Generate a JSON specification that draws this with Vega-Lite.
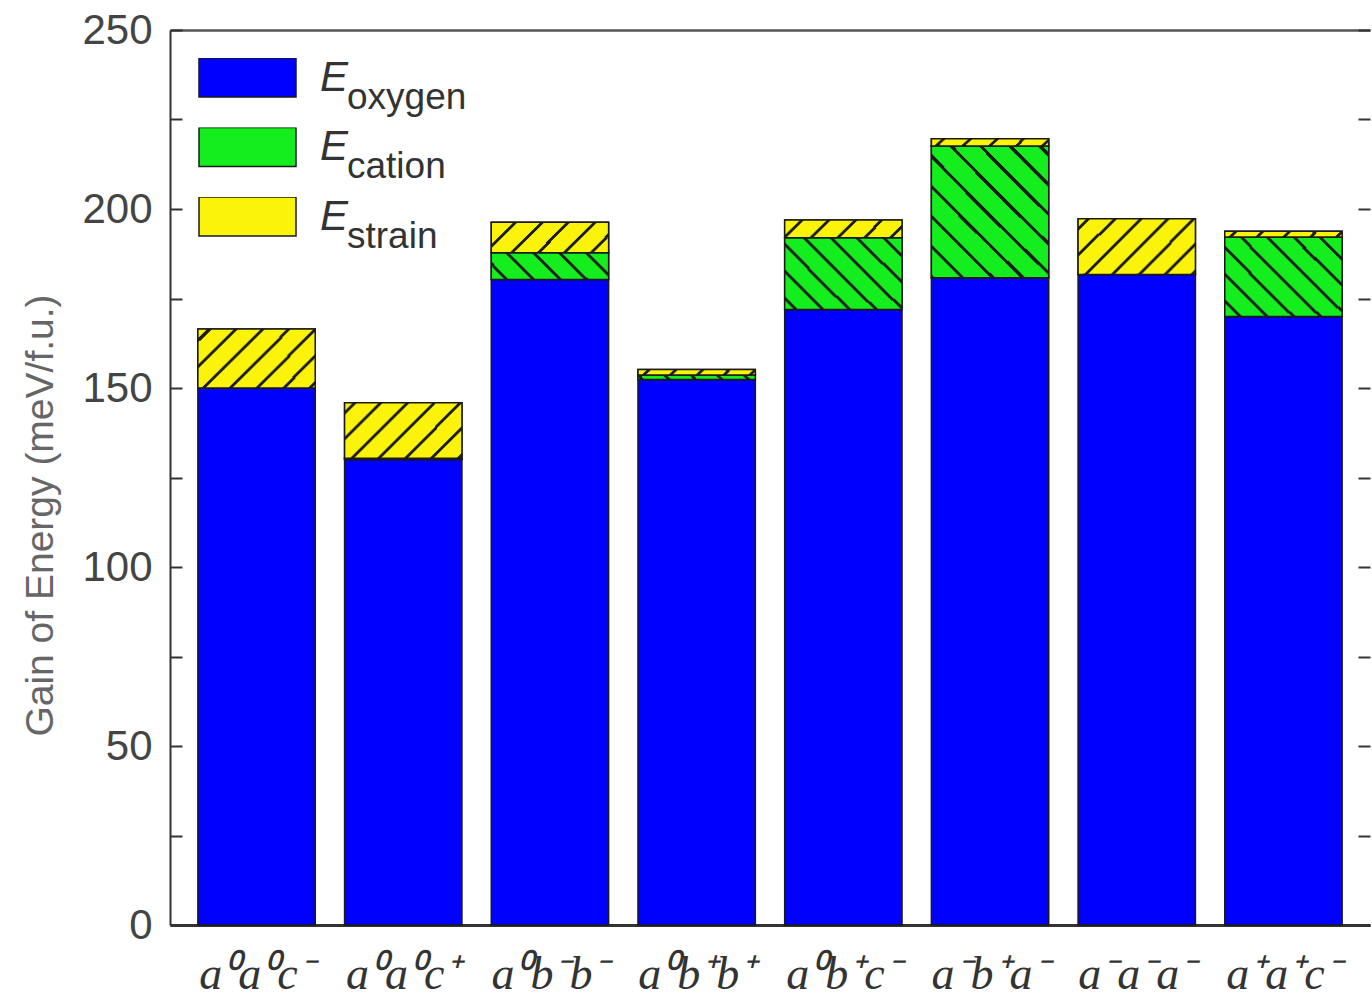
{
  "$schema": "https://vega.github.io/schema/vega-lite/v6.json",
  "autosize": "none",
  "width": 1200,
  "height": 895,
  "padding": {"left": 170, "top": 30, "right": 2, "bottom": 73},
  "background": "white",
  "config": {"view": {"stroke": null}, "axis": {"grid": false}},
  "data": {
    "values": [
      {"phase": "a⁰a⁰c⁻", "comp": "oxygen", "value": 150.0},
      {"phase": "a⁰a⁰c⁻", "comp": "strain", "value": 16.5},
      {"phase": "a⁰a⁰c⁺", "comp": "oxygen", "value": 130.0},
      {"phase": "a⁰a⁰c⁺", "comp": "cation", "value": 0.4},
      {"phase": "a⁰a⁰c⁺", "comp": "strain", "value": 15.5},
      {"phase": "a⁰b⁻b⁻", "comp": "oxygen", "value": 180.3},
      {"phase": "a⁰b⁻b⁻", "comp": "cation", "value": 7.5},
      {"phase": "a⁰b⁻b⁻", "comp": "strain", "value": 8.5},
      {"phase": "a⁰b⁺b⁺", "comp": "oxygen", "value": 152.4},
      {"phase": "a⁰b⁺b⁺", "comp": "cation", "value": 1.2},
      {"phase": "a⁰b⁺b⁺", "comp": "strain", "value": 1.6},
      {"phase": "a⁰b⁺c⁻", "comp": "oxygen", "value": 171.9},
      {"phase": "a⁰b⁺c⁻", "comp": "cation", "value": 20.1},
      {"phase": "a⁰b⁺c⁻", "comp": "strain", "value": 4.9},
      {"phase": "a⁻b⁺a⁻", "comp": "oxygen", "value": 180.8},
      {"phase": "a⁻b⁺a⁻", "comp": "cation", "value": 36.8},
      {"phase": "a⁻b⁺a⁻", "comp": "strain", "value": 2.0},
      {"phase": "a⁻a⁻a⁻", "comp": "oxygen", "value": 181.7},
      {"phase": "a⁻a⁻a⁻", "comp": "strain", "value": 15.6},
      {"phase": "a⁺a⁺c⁻", "comp": "oxygen", "value": 170.0},
      {"phase": "a⁺a⁺c⁻", "comp": "cation", "value": 22.2},
      {"phase": "a⁺a⁺c⁻", "comp": "strain", "value": 1.6}
    ]
  },
  "transform": [
    {"calculate": "indexof(['oxygen','cation','strain'], datum.comp)", "as": "rank"},
    {"stack": "value", "groupby": ["phase"], "sort": [{"field": "rank", "order": "ascending"}], "as": ["y0", "y1"]}
  ],
  "resolve": {"axis": {"x": "independent", "y": "independent"}},
  "layer": [
    {
      "mark": {"type": "bar", "strokeWidth": 1.5},
      "encoding": {
        "x": {
          "field": "phase", "type": "nominal",
          "sort": ["a⁰a⁰c⁻", "a⁰a⁰c⁺", "a⁰b⁻b⁻", "a⁰b⁺b⁺", "a⁰b⁺c⁻", "a⁻b⁺a⁻", "a⁻a⁻a⁻", "a⁺a⁺c⁻"],
          "scale": {"paddingInner": 0.2, "paddingOuter": 0.19},
          "axis": {
            "title": null, "ticks": false, "labelAngle": 0,
            "domainColor": "#333", "domainWidth": 3,
            "labelFont": "Liberation Serif", "labelFontStyle": "italic", "labelFontSize": 46,
            "labelColor": "#333", "labelPadding": 27
          }
        },
        "y": {
          "field": "y0", "type": "quantitative",
          "scale": {"domain": [0, 250], "nice": false},
          "axis": {
            "title": "Gain of Energy (meV/f.u.)",
            "titleFont": "Liberation Sans", "titleFontSize": 39, "titleFontWeight": "normal",
            "titleColor": "#666", "titleBaseline": "alphabetic", "titleX": -118, "titleY": 485,
            "values": [0, 25, 50, 75, 100, 125, 150, 175, 200, 225, 250],
            "labelExpr": "datum.value % 50 === 0 ? datum.label : ''",
            "labelFont": "Liberation Sans", "labelFontSize": 42, "labelColor": "#444",
            "labelPadding": 30,
            "tickSize": -12, "tickWidth": 2, "tickColor": "#333",
            "domainColor": "#333", "domainWidth": 2
          }
        },
        "y2": {"field": "y1"},
        "fill": {
          "field": "comp", "type": "nominal",
          "scale": {"domain": ["oxygen", "cation", "strain"], "range": ["#0000ff", "#14ee1e", "#fbf40a"]},
          "legend": {
            "title": null, "orient": "top-left", "offset": 28, "padding": 0,
            "symbolType": "M-1,-0.402H1V0.402H-1Z", "symbolSize": 9409,
            "clipHeight": 39, "rowPadding": 26.5, "labelOffset": 23,
            "labelExpr": "'E'",
            "labelFont": "Liberation Sans", "labelFontStyle": "italic", "labelFontSize": 42, "labelColor": "#333",
            "encode": {
              "symbols": {
                "update": {
                  "stroke": {"value": "#1a1a1a"},
                  "strokeWidth": {"value": 1.5},
                  "fill": [
                    {"test": "datum.value === 'cation'", "value": {
                      "gradient": "radial", "x1": 21, "y1": -20, "r1": 0, "x2": 21, "y2": -20, "r2": 30,
                      "stops": [
                        {"offset": 0, "color": "#14ee1e"},
                        {"offset": 0.94, "color": "#14ee1e"}, {"offset": 0.94, "color": "#1a1a1a"}, {"offset": 0.9408, "color": "#1a1a1a"}, {"offset": 0.9408, "color": "#14ee1e"},
                        {"offset": 0.945333, "color": "#14ee1e"}, {"offset": 0.945333, "color": "#1a1a1a"}, {"offset": 0.946133, "color": "#1a1a1a"}, {"offset": 0.946133, "color": "#14ee1e"},
                        {"offset": 0.950667, "color": "#14ee1e"}, {"offset": 0.950667, "color": "#1a1a1a"}, {"offset": 0.951467, "color": "#1a1a1a"}, {"offset": 0.951467, "color": "#14ee1e"},
                        {"offset": 0.956, "color": "#14ee1e"}, {"offset": 0.956, "color": "#1a1a1a"}, {"offset": 0.9568, "color": "#1a1a1a"}, {"offset": 0.9568, "color": "#14ee1e"},
                        {"offset": 0.961333, "color": "#14ee1e"}, {"offset": 0.961333, "color": "#1a1a1a"}, {"offset": 0.962133, "color": "#1a1a1a"}, {"offset": 0.962133, "color": "#14ee1e"},
                        {"offset": 0.966667, "color": "#14ee1e"}, {"offset": 0.966667, "color": "#1a1a1a"}, {"offset": 0.967467, "color": "#1a1a1a"}, {"offset": 0.967467, "color": "#14ee1e"},
                        {"offset": 0.972, "color": "#14ee1e"}, {"offset": 0.972, "color": "#1a1a1a"}, {"offset": 0.9728, "color": "#1a1a1a"}, {"offset": 0.9728, "color": "#14ee1e"},
                        {"offset": 0.977333, "color": "#14ee1e"}, {"offset": 0.977333, "color": "#1a1a1a"}, {"offset": 0.978133, "color": "#1a1a1a"}, {"offset": 0.978133, "color": "#14ee1e"},
                        {"offset": 0.982667, "color": "#14ee1e"}, {"offset": 0.982667, "color": "#1a1a1a"}, {"offset": 0.983467, "color": "#1a1a1a"}, {"offset": 0.983467, "color": "#14ee1e"},
                        {"offset": 0.988, "color": "#14ee1e"}, {"offset": 0.988, "color": "#1a1a1a"}, {"offset": 0.9888, "color": "#1a1a1a"}, {"offset": 0.9888, "color": "#14ee1e"},
                        {"offset": 0.993333, "color": "#14ee1e"}, {"offset": 0.993333, "color": "#1a1a1a"}, {"offset": 0.994133, "color": "#1a1a1a"}, {"offset": 0.994133, "color": "#14ee1e"},
                        {"offset": 1, "color": "#14ee1e"}
                      ]
                    }},
                    {"test": "datum.value === 'strain'", "value": {
                      "gradient": "radial", "x1": -20, "y1": -20, "r1": 0, "x2": -20, "y2": -20, "r2": 30,
                      "stops": [
                        {"offset": 0, "color": "#fbf40a"},
                        {"offset": 0.94, "color": "#fbf40a"}, {"offset": 0.94, "color": "#1a1a1a"}, {"offset": 0.9408, "color": "#1a1a1a"}, {"offset": 0.9408, "color": "#fbf40a"},
                        {"offset": 0.945333, "color": "#fbf40a"}, {"offset": 0.945333, "color": "#1a1a1a"}, {"offset": 0.946133, "color": "#1a1a1a"}, {"offset": 0.946133, "color": "#fbf40a"},
                        {"offset": 0.950667, "color": "#fbf40a"}, {"offset": 0.950667, "color": "#1a1a1a"}, {"offset": 0.951467, "color": "#1a1a1a"}, {"offset": 0.951467, "color": "#fbf40a"},
                        {"offset": 0.956, "color": "#fbf40a"}, {"offset": 0.956, "color": "#1a1a1a"}, {"offset": 0.9568, "color": "#1a1a1a"}, {"offset": 0.9568, "color": "#fbf40a"},
                        {"offset": 0.961333, "color": "#fbf40a"}, {"offset": 0.961333, "color": "#1a1a1a"}, {"offset": 0.962133, "color": "#1a1a1a"}, {"offset": 0.962133, "color": "#fbf40a"},
                        {"offset": 0.966667, "color": "#fbf40a"}, {"offset": 0.966667, "color": "#1a1a1a"}, {"offset": 0.967467, "color": "#1a1a1a"}, {"offset": 0.967467, "color": "#fbf40a"},
                        {"offset": 0.972, "color": "#fbf40a"}, {"offset": 0.972, "color": "#1a1a1a"}, {"offset": 0.9728, "color": "#1a1a1a"}, {"offset": 0.9728, "color": "#fbf40a"},
                        {"offset": 0.977333, "color": "#fbf40a"}, {"offset": 0.977333, "color": "#1a1a1a"}, {"offset": 0.978133, "color": "#1a1a1a"}, {"offset": 0.978133, "color": "#fbf40a"},
                        {"offset": 0.982667, "color": "#fbf40a"}, {"offset": 0.982667, "color": "#1a1a1a"}, {"offset": 0.983467, "color": "#1a1a1a"}, {"offset": 0.983467, "color": "#fbf40a"},
                        {"offset": 0.988, "color": "#fbf40a"}, {"offset": 0.988, "color": "#1a1a1a"}, {"offset": 0.9888, "color": "#1a1a1a"}, {"offset": 0.9888, "color": "#fbf40a"},
                        {"offset": 0.993333, "color": "#fbf40a"}, {"offset": 0.993333, "color": "#1a1a1a"}, {"offset": 0.994133, "color": "#1a1a1a"}, {"offset": 0.994133, "color": "#fbf40a"},
                        {"offset": 1, "color": "#fbf40a"}
                      ]
                    }},
                    {"value": "#0000ff"}
                  ]
                }
              }
            }
          }
        },
        "stroke": {
          "field": "comp", "type": "nominal",
          "scale": {"domain": ["oxygen", "cation", "strain"], "range": ["#1a1a1a", "#1a1a1a", "#1a1a1a"]},
          "legend": {
            "title": null, "orient": "none", "legendX": 140, "legendY": 48, "padding": 0,
            "symbolSize": 1, "symbolOpacity": 0, "symbolStrokeWidth": 0,
            "clipHeight": 39, "rowPadding": 30.5, "labelOffset": 0,
            "labelFont": "Liberation Sans", "labelFontSize": 37, "labelColor": "#333"
          }
        }
      }
    },
    {
      "transform": [{"filter": "datum.comp !== 'oxygen'"}],
      "mark": {"type": "bar", "strokeWidth": 1.5, "stroke": "#1a1a1a"},
      "encoding": {
        "x": {
          "field": "phase", "type": "nominal",
          "sort": ["a⁰a⁰c⁻", "a⁰a⁰c⁺", "a⁰b⁻b⁻", "a⁰b⁺b⁺", "a⁰b⁺c⁻", "a⁻b⁺a⁻", "a⁻a⁻a⁻", "a⁺a⁺c⁻"],
          "axis": {"orient": "top", "title": null, "labels": false, "ticks": false, "domainColor": "#555", "domainWidth": 2.5}
        },
        "y": {
          "field": "y0", "type": "quantitative",
          "axis": {
            "orient": "right", "title": null, "labels": false, "domain": false,
            "values": [0, 25, 50, 75, 100, 125, 150, 175, 200, 225, 250],
            "tickSize": -12, "tickWidth": 2, "tickColor": "#333"
          }
        },
        "y2": {"field": "y1"},
        "fill": {
          "condition": {"test": "datum.comp === 'cation'", "value": {
            "gradient": "radial", "x1": 21, "y1": -20, "r1": 0, "x2": 21, "y2": -20, "r2": 30,
            "stops": [
              {"offset": 0, "color": "#14ee1e"},
              {"offset": 0.94, "color": "#14ee1e"}, {"offset": 0.94, "color": "#1a1a1a"}, {"offset": 0.9408, "color": "#1a1a1a"}, {"offset": 0.9408, "color": "#14ee1e"},
              {"offset": 0.945333, "color": "#14ee1e"}, {"offset": 0.945333, "color": "#1a1a1a"}, {"offset": 0.946133, "color": "#1a1a1a"}, {"offset": 0.946133, "color": "#14ee1e"},
              {"offset": 0.950667, "color": "#14ee1e"}, {"offset": 0.950667, "color": "#1a1a1a"}, {"offset": 0.951467, "color": "#1a1a1a"}, {"offset": 0.951467, "color": "#14ee1e"},
              {"offset": 0.956, "color": "#14ee1e"}, {"offset": 0.956, "color": "#1a1a1a"}, {"offset": 0.9568, "color": "#1a1a1a"}, {"offset": 0.9568, "color": "#14ee1e"},
              {"offset": 0.961333, "color": "#14ee1e"}, {"offset": 0.961333, "color": "#1a1a1a"}, {"offset": 0.962133, "color": "#1a1a1a"}, {"offset": 0.962133, "color": "#14ee1e"},
              {"offset": 0.966667, "color": "#14ee1e"}, {"offset": 0.966667, "color": "#1a1a1a"}, {"offset": 0.967467, "color": "#1a1a1a"}, {"offset": 0.967467, "color": "#14ee1e"},
              {"offset": 0.972, "color": "#14ee1e"}, {"offset": 0.972, "color": "#1a1a1a"}, {"offset": 0.9728, "color": "#1a1a1a"}, {"offset": 0.9728, "color": "#14ee1e"},
              {"offset": 0.977333, "color": "#14ee1e"}, {"offset": 0.977333, "color": "#1a1a1a"}, {"offset": 0.978133, "color": "#1a1a1a"}, {"offset": 0.978133, "color": "#14ee1e"},
              {"offset": 0.982667, "color": "#14ee1e"}, {"offset": 0.982667, "color": "#1a1a1a"}, {"offset": 0.983467, "color": "#1a1a1a"}, {"offset": 0.983467, "color": "#14ee1e"},
              {"offset": 0.988, "color": "#14ee1e"}, {"offset": 0.988, "color": "#1a1a1a"}, {"offset": 0.9888, "color": "#1a1a1a"}, {"offset": 0.9888, "color": "#14ee1e"},
              {"offset": 0.993333, "color": "#14ee1e"}, {"offset": 0.993333, "color": "#1a1a1a"}, {"offset": 0.994133, "color": "#1a1a1a"}, {"offset": 0.994133, "color": "#14ee1e"},
              {"offset": 1, "color": "#14ee1e"}
            ]
          }},
          "value": {
            "gradient": "radial", "x1": -20, "y1": -20, "r1": 0, "x2": -20, "y2": -20, "r2": 30,
            "stops": [
              {"offset": 0, "color": "#fbf40a"},
              {"offset": 0.94, "color": "#fbf40a"}, {"offset": 0.94, "color": "#1a1a1a"}, {"offset": 0.9408, "color": "#1a1a1a"}, {"offset": 0.9408, "color": "#fbf40a"},
              {"offset": 0.945333, "color": "#fbf40a"}, {"offset": 0.945333, "color": "#1a1a1a"}, {"offset": 0.946133, "color": "#1a1a1a"}, {"offset": 0.946133, "color": "#fbf40a"},
              {"offset": 0.950667, "color": "#fbf40a"}, {"offset": 0.950667, "color": "#1a1a1a"}, {"offset": 0.951467, "color": "#1a1a1a"}, {"offset": 0.951467, "color": "#fbf40a"},
              {"offset": 0.956, "color": "#fbf40a"}, {"offset": 0.956, "color": "#1a1a1a"}, {"offset": 0.9568, "color": "#1a1a1a"}, {"offset": 0.9568, "color": "#fbf40a"},
              {"offset": 0.961333, "color": "#fbf40a"}, {"offset": 0.961333, "color": "#1a1a1a"}, {"offset": 0.962133, "color": "#1a1a1a"}, {"offset": 0.962133, "color": "#fbf40a"},
              {"offset": 0.966667, "color": "#fbf40a"}, {"offset": 0.966667, "color": "#1a1a1a"}, {"offset": 0.967467, "color": "#1a1a1a"}, {"offset": 0.967467, "color": "#fbf40a"},
              {"offset": 0.972, "color": "#fbf40a"}, {"offset": 0.972, "color": "#1a1a1a"}, {"offset": 0.9728, "color": "#1a1a1a"}, {"offset": 0.9728, "color": "#fbf40a"},
              {"offset": 0.977333, "color": "#fbf40a"}, {"offset": 0.977333, "color": "#1a1a1a"}, {"offset": 0.978133, "color": "#1a1a1a"}, {"offset": 0.978133, "color": "#fbf40a"},
              {"offset": 0.982667, "color": "#fbf40a"}, {"offset": 0.982667, "color": "#1a1a1a"}, {"offset": 0.983467, "color": "#1a1a1a"}, {"offset": 0.983467, "color": "#fbf40a"},
              {"offset": 0.988, "color": "#fbf40a"}, {"offset": 0.988, "color": "#1a1a1a"}, {"offset": 0.9888, "color": "#1a1a1a"}, {"offset": 0.9888, "color": "#fbf40a"},
              {"offset": 0.993333, "color": "#fbf40a"}, {"offset": 0.993333, "color": "#1a1a1a"}, {"offset": 0.994133, "color": "#1a1a1a"}, {"offset": 0.994133, "color": "#fbf40a"},
              {"offset": 1, "color": "#fbf40a"}
            ]
          }
        }
      }
    }
  ]
}
